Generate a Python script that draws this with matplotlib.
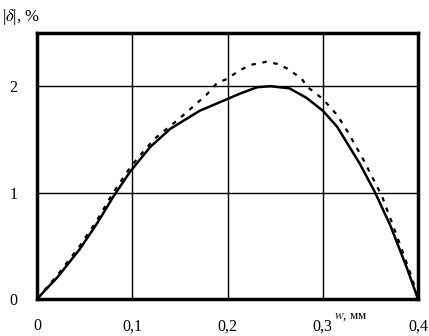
import matplotlib.pyplot as plt
from matplotlib.ticker import FuncFormatter

# data
w_solid = [0.0, 0.022, 0.045, 0.063, 0.08, 0.098, 0.119, 0.14, 0.171, 0.2, 0.213,
           0.231, 0.245, 0.265, 0.283, 0.3, 0.315, 0.339, 0.355, 0.371, 0.388, 0.4]
d_solid = [0.0, 0.21, 0.47, 0.71, 0.96, 1.2, 1.43, 1.6, 1.77, 1.88, 1.93,
           1.99, 2.0, 1.98, 1.89, 1.77, 1.62, 1.27, 1.0, 0.69, 0.3, 0.0]

w_dash = [0.0, 0.022, 0.045, 0.063, 0.08, 0.098, 0.111, 0.124, 0.15, 0.159, 0.178,
          0.189, 0.2, 0.211, 0.224, 0.241, 0.252, 0.262, 0.278, 0.283, 0.3,
          0.315, 0.327, 0.342, 0.362, 0.378, 0.394, 0.4]
d_dash = [0.0, 0.23, 0.5, 0.74, 1.0, 1.24, 1.38, 1.51, 1.70, 1.77, 1.92,
          2.03, 2.07, 2.14, 2.2, 2.23, 2.21, 2.17, 2.07, 2.0, 1.88,
          1.73, 1.56, 1.32, 0.97, 0.59, 0.19, 0.0]

x_ticks = [0, 0.1, 0.2, 0.3, 0.4]
y_ticks = [0, 1, 2]

plt.rcParams['font.family'] = ['Liberation Serif', 'DejaVu Serif']
plt.rcParams['mathtext.fontset'] = 'stix'

fig = plt.figure(figsize=(4.29, 3.36), dpi=100)
ax = fig.add_axes([37 / 429, 37 / 336, 381 / 429, 266 / 336])

ax.plot(w_solid, d_solid, color='black', lw=1.8)
ax.plot(w_dash, d_dash, color='black', lw=1.6, ls=(0, (2, 3)))

ax.set_xlim(0, 0.4)
ax.set_ylim(0, 2.5)
ax.set_xticks(x_ticks)
ax.set_yticks(y_ticks)
ax.xaxis.set_major_formatter(FuncFormatter(lambda v, p: '0' if v == 0 else f'{v:.1f}'.replace('.', ',')))
ax.yaxis.set_major_formatter(FuncFormatter(lambda v, p: f'{v:.0f}'))
ax.grid(True, color='black', lw=1.0)
ax.tick_params(length=0, labelsize=11.5, pad=14)
ax.tick_params(axis='y', pad=14)
for s in ax.spines.values():
    s.set_linewidth(2.5)

fig.text(2 / 429, 1 - 17 / 336, '|$\\delta$|, %', fontsize=12, va='center', ha='left')
fig.text(334 / 429, 1 - 317 / 336, '$w$, мм', fontsize=9.5, va='center', ha='left')

fig.savefig('out.png', dpi=100)
